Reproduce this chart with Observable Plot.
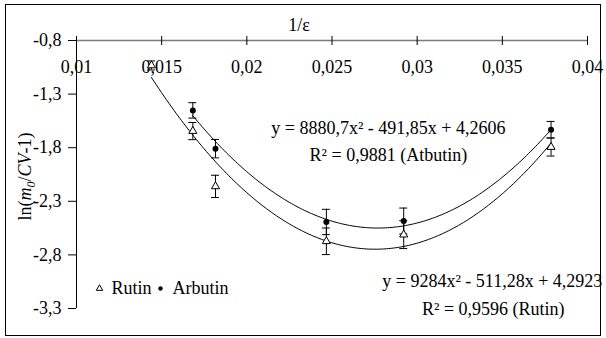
<!DOCTYPE html>
<html>
<head>
<meta charset="utf-8">
<script src="https://cdn.jsdelivr.net/npm/d3@7"></script>
<script src="https://cdn.jsdelivr.net/npm/@observablehq/plot@0.6"></script>
<style>
  body { margin: 0; background: #fff; }
  #chart { position: relative; width: 606px; height: 338px; }
  #chart svg { position: absolute; left: 0; top: 0; }
  #chart .border {
    position: absolute; left: 5px; top: 4px; width: 596px; height: 332px;
    box-sizing: border-box; border: 1.5px solid #000; pointer-events: none;
  }
</style>
</head>
<body>
<div id="chart"><div class="border"></div></div>
<script>
// Inverse dielectric constant of the solvent (1/ε)
const rutinX = [0.0144, 0.01683, 0.01816, 0.02467, 0.02921, 0.03786];
const rutinY = [-1.033, -1.645, -2.161, -2.673, -2.611, -1.794];
const rutinErr = [0.042, 0.08, 0.104, 0.124, 0.13, 0.084];

const arbutinX = [0.01683, 0.01816, 0.02467, 0.02921, 0.03786];
const arbutinY = [-1.452, -1.809, -2.493, -2.484, -1.632];
const arbutinErr = [0.072, 0.086, 0.118, 0.121, 0.077];

// Quadratic trend coefficients [a, b, c] for y = a·x² + b·x + c
const rutinFit = [9284, -511.28, 4.2923];
const arbutinFit = [8880.7, -491.85, 4.2606];

const rutinEq = ["y = 9284x² - 511,28x + 4,2923", "R² = 0,9596 (Rutin)"];
const arbutinEq = ["y = 8880,7x² - 491,85x + 4,2606", "R² = 0,9881 (Atbutin)"];

const xTicks = [0.01, 0.015, 0.02, 0.025, 0.03, 0.035, 0.04];
const yTicks = [-0.8, -1.3, -1.8, -2.3, -2.8, -3.3];
const legendNames = ["Rutin", "Arbutin"];

const FONT = "Liberation Serif, Times New Roman, serif";
const FS = 18;
const comma = (d, n) => d.toFixed(n).replace(".", ",");
const xFmt = d => { const s = String(+d.toFixed(3)); return s.replace(".", ","); };

const rows = (xs, ys, es) => xs.map((x, i) => ({x, y: ys[i], e: es[i]}));
const rutin = rows(rutinX, rutinY, rutinErr);
const arbutin = rows(arbutinX, arbutinY, arbutinErr);

// trend curve sampled over the measured range of a series
function trend([a, b, c], xs) {
  const x0 = d3.min(xs), x1 = d3.max(xs), n = 160;
  return d3.range(n + 1).map(i => {
    const x = x0 + (x1 - x0) * i / n;
    return {x, y: a * x * x + b * x + c};
  });
}

function errorMarks(data) {
  return [
    Plot.ruleX(data, {x: "x", y1: d => d.y - d.e, y2: d => d.y + d.e, stroke: "#000", strokeWidth: 1}),
    Plot.ruleY(data, {y: d => d.y - d.e, x1: "x", x2: "x", insetLeft: -4, insetRight: -4, stroke: "#000", strokeWidth: 1}),
    Plot.ruleY(data, {y: d => d.y + d.e, x1: "x", x2: "x", insetLeft: -4, insetRight: -4, stroke: "#000", strokeWidth: 1})
  ];
}

const chart = Plot.plot({
  width: 606,
  height: 338,
  marginLeft: 76,
  marginRight: 19,
  marginTop: 40,
  marginBottom: 30,
  style: {fontFamily: FONT, fontSize: FS + "px", color: "#000", background: "transparent"},
  x: {domain: [0.01, 0.04], axis: null},
  y: {domain: [-3.3, -0.8], axis: null},
  marks: [
    // y axis
    Plot.ruleX([0.01], {y1: -3.3, y2: -0.8, stroke: "#000", strokeWidth: 1}),
    Plot.axisY(yTicks, {
      anchor: "left", tickSize: 8, tickPadding: 7, tickFormat: d => comma(d, 1),
      fontSize: FS, stroke: "#000", label: null
    }),
    // x axis along the top edge, ticks crossing the line
    Plot.ruleY([-0.8], {stroke: "#7a7a7a", strokeWidth: 1.5}),
    Plot.ruleX(xTicks, {x: d => d, y1: -0.8, y2: -0.8, insetTop: -4, insetBottom: -5, stroke: "#000", strokeWidth: 1}),
    Plot.text(xTicks, {x: d => d, y: () => -0.8, dy: 27, text: xFmt, fontSize: FS, lineAnchor: "middle"}),
    Plot.text(["1/ε"], {frameAnchor: "top", dx: -33, dy: -15, fontSize: FS, lineAnchor: "middle"}),
    Plot.text(["ln(m0/CV-1)"], {frameAnchor: "left", dx: -51, dy: 2, rotate: -90, textAnchor: "middle", fontSize: FS, lineAnchor: "middle", className: "ytitle"}),

    // trend curves
    Plot.line(trend(rutinFit, rutinX), {x: "x", y: "y", stroke: "#000", strokeWidth: 1}),
    Plot.line(trend(arbutinFit, arbutinX), {x: "x", y: "y", stroke: "#000", strokeWidth: 1}),

    // error bars and markers
    ...errorMarks(arbutin),
    ...errorMarks(rutin),
    Plot.dot(arbutin, {x: "x", y: "y", r: 3, fill: "#000", stroke: "none"}),
    Plot.dot(rutin, {x: "x", y: "y", r: 3, symbol: "triangle", fill: "#fff", stroke: "#000", strokeWidth: 1}),

    // regression annotations
    Plot.text([arbutinEq[0]], {x: 0.02831, y: -1.62, fontSize: FS, lineAnchor: "middle"}),
    Plot.text([arbutinEq[1]], {x: 0.02831, y: -1.872, fontSize: FS, lineAnchor: "middle"}),
    Plot.text([rutinEq[0]], {x: 0.03441, y: -3.046, fontSize: FS, lineAnchor: "middle"}),
    Plot.text([rutinEq[1]], {x: 0.03447, y: -3.307, fontSize: FS, lineAnchor: "middle"}),

    // legend
    Plot.dot([legendNames[0]], {frameAnchor: "bottom-left", dx: 23, dy: -20, r: 2.4, symbol: "triangle", fill: "#fff", stroke: "#000", strokeWidth: 1}),
    Plot.text([legendNames[0]], {frameAnchor: "bottom-left", dx: 35, dy: -20, text: d => d, textAnchor: "start", fontSize: FS, lineAnchor: "middle"}),
    Plot.dot([legendNames[1]], {frameAnchor: "bottom-left", dx: 84, dy: -20, r: 2.2, fill: "#000", stroke: "none"}),
    Plot.text([legendNames[1]], {frameAnchor: "bottom-left", dx: 96, dy: -20, text: d => d, textAnchor: "start", fontSize: FS, lineAnchor: "middle"})
  ]
});

// y axis title with italic symbols and subscript
const title = d3.select(chart).select(".ytitle text");
title.text(null);
title.append("tspan").text("ln(");
title.append("tspan").attr("font-style", "italic").text("m");
title.append("tspan").attr("font-style", "italic").attr("font-size", 12).attr("dy", 4).text("0");
title.append("tspan").attr("dy", -4).text("/");
title.append("tspan").attr("font-style", "italic").text("CV");
title.append("tspan").text("-1)");

document.getElementById("chart").appendChild(chart);
</script>
</body>
</html>
